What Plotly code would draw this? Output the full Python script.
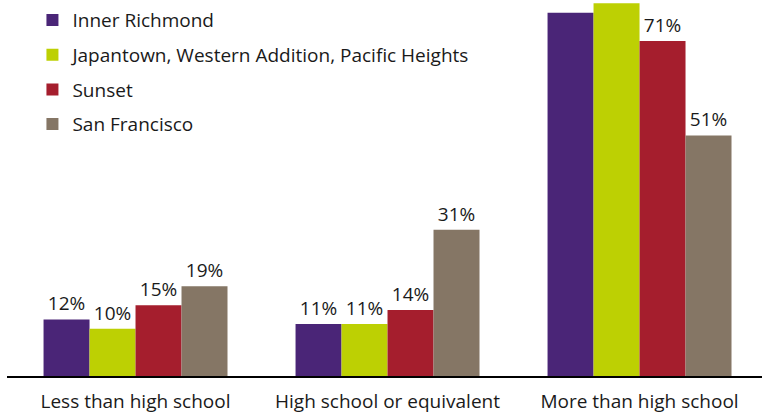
import plotly.graph_objects as go

categories = ["Less than high school", "High school or equivalent", "More than high school"]
series_names = ["Inner Richmond", "Japantown, Western Addition, Pacific Heights", "Sunset", "San Francisco"]
inner_richmond = [12, 11, 77]
japantown = [10, 11, 79]
sunset = [15, 14, 71]
san_francisco = [19, 31, 51]
show_label = [[True, True, False], [True, True, False], [True, True, True], [True, True, True]]
colors = ["#4a2577", "#bdd003", "#a51e2d", "#857665"]

values = [inner_richmond, japantown, sunset, san_francisco]

fig = go.Figure()
for i, (name, vals) in enumerate(zip(series_names, values)):
    texts = [f"{v}%" if show_label[i][j] else "" for j, v in enumerate(vals)]
    fig.add_trace(go.Bar(
        x=categories, y=vals, name=name, marker_color=colors[i],
        marker_line_width=0,
        text=texts, textposition="outside", cliponaxis=False,
        textfont=dict(size=19, color="#1a1a1a"),
        legendgroup=f"g{i}",
        hoverinfo="skip",
    ))

font_family = "Open Sans"
fig.update_layout(
    width=762, height=413,
    margin=dict(l=7, r=0, t=0, b=37, autoexpand=False),
    paper_bgcolor="white", plot_bgcolor="white",
    barmode="group", bargap=0.27, bargroupgap=0,
    font=dict(family=font_family, size=19, color="#1a1a1a"),
    showlegend=True,
    legend=dict(
        x=0.0337, y=0.997, xref="paper", yref="paper", xanchor="left", yanchor="top",
        font=dict(size=19, color="#1a1a1a"),
        traceorder="grouped", tracegroupgap=7,
        bgcolor="rgba(0,0,0,0)",
    ),
)
fig.update_xaxes(
    range=[-0.51, 2.486], showline=True, linecolor="black", linewidth=2,
    ticks="outside", ticklen=7, tickcolor="rgba(0,0,0,0)", automargin=False,
    tickfont=dict(size=19, color="#1a1a1a"), showgrid=False, zeroline=False,
)
fig.update_yaxes(range=[0, 79.7], visible=False, showgrid=False, zeroline=False, automargin=False)

fig.write_html(
    "out.html",
    config={"displayModeBar": False},
    post_script="document.body.style.margin='0';document.body.style.overflow='hidden';",
)
